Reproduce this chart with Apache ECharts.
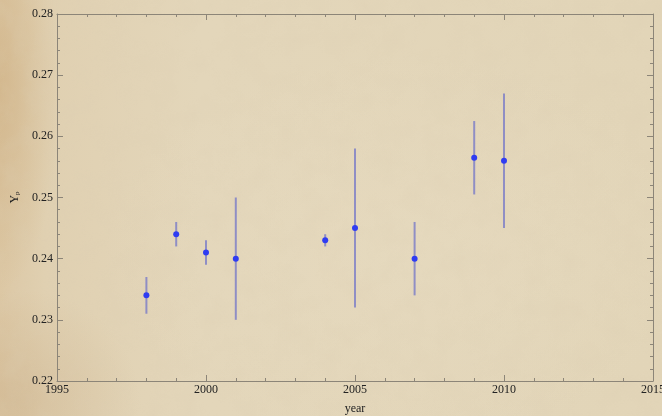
<!DOCTYPE html>
<html>
<head>
<meta charset="utf-8">
<script src="https://cdn.jsdelivr.net/npm/echarts@6/dist/echarts.min.js"></script>
<style>
  html, body { margin: 0; padding: 0; }
  body {
    width: 662px; height: 416px; overflow: hidden;
    background-color: #e2d4b7;
    position: relative;
  }
  #paper {
    position: absolute; left: 0; top: 0; width: 662px; height: 416px;
    background:
      radial-gradient(ellipse 60px 200px at 0px 90px, rgba(200,165,115,0.45), rgba(200,165,115,0) 100%),
      radial-gradient(ellipse 120px 110px at 20px 400px, rgba(195,165,125,0.35), rgba(195,165,125,0) 100%),
      radial-gradient(ellipse 300px 200px at 400px 250px, rgba(235,224,200,0.3), rgba(235,224,200,0) 100%),
      linear-gradient(90deg, #dcc7a4 0px, #e0d0b1 45px, #e3d6ba 200px, #e2d5b8 662px);
  }
  #grain {
    position: absolute; left: 0; top: 0; width: 662px; height: 416px;
    opacity: 0.3;
  }
  #chart { position: absolute; left: 0; top: 0; width: 662px; height: 416px; }
</style>
</head>
<body>
<div id="paper"></div>
<svg id="grain" width="662" height="416">
  <filter id="mottle">
    <feTurbulence type="fractalNoise" baseFrequency="0.04" numOctaves="4" seed="7"/>
    <feColorMatrix type="matrix" values="0 0 0 0 0.72  0 0 0 0 0.62  0 0 0 0 0.45  0 0 0 -1.6 1.0"/>
  </filter>
  <rect width="662" height="416" filter="url(#mottle)"/>
</svg>
<div id="chart"></div>
<script>
// Helium abundance Y_p measurements by year, with symmetric uncertainties
const years  = [1998, 1999, 2000, 2001, 2004, 2005, 2007, 2009, 2010];
const yp     = [0.234, 0.244, 0.241, 0.240, 0.243, 0.245, 0.240, 0.2565, 0.256];
const errors = [0.003, 0.002, 0.002, 0.010, 0.001, 0.013, 0.006, 0.006, 0.011];

const xTicks = [1995, 2000, 2005, 2010, 2015];
const yTicks = [0.22, 0.23, 0.24, 0.25, 0.26, 0.27, 0.28];

const points = years.map((y, i) => [y, yp[i]]);
const bars = years.map((y, i) => [y, yp[i] - errors[i], yp[i] + errors[i]]);

const serif = 'Liberation Serif';
const frameColor = '#8c8578';

const chart = echarts.init(document.getElementById('chart'), null, { renderer: 'canvas' });

const tickStyle = { show: true, inside: true, length: 6, lineStyle: { color: frameColor, width: 1 } };
const minorStyle = { show: true, splitNumber: 5, length: 3, lineStyle: { color: frameColor, width: 1 } };

chart.setOption({
  backgroundColor: 'transparent',
  animation: false,
  grid: { left: 57, right: 9, top: 14, bottom: 35, containLabel: false, outerBoundsMode: 'none' },
  xAxis: [{
    type: 'value', min: xTicks[0], max: xTicks[xTicks.length - 1], interval: 5,
    name: 'year', nameLocation: 'middle', nameGap: 22,
    nameTextStyle: { fontFamily: serif, fontSize: 12, color: '#222' },
    axisLine: { show: true, lineStyle: { color: frameColor, width: 1 } },
    axisTick: tickStyle, minorTick: minorStyle,
    axisLabel: { fontFamily: serif, fontSize: 12, color: '#222', margin: 3,
                 formatter: v => xTicks.includes(v) ? String(v) : '' },
    splitLine: { show: false }
  }, {
    type: 'value', position: 'top', min: xTicks[0], max: xTicks[xTicks.length - 1], interval: 5,
    axisLine: { show: true, onZero: false, lineStyle: { color: frameColor, width: 1 } },
    axisTick: tickStyle, minorTick: minorStyle,
    axisLabel: { show: false }, splitLine: { show: false }
  }],
  yAxis: [{
    type: 'value', min: yTicks[0], max: yTicks[yTicks.length - 1], interval: 0.01,
    name: '{y|Y}{p|p}', nameLocation: 'middle', nameGap: 36, nameRotate: 90,
    nameTextStyle: {
      fontFamily: serif, color: '#222',
      rich: {
        y: { fontFamily: serif, fontSize: 12, color: '#222' },
        p: { fontFamily: serif, fontSize: 7, color: '#222', verticalAlign: 'bottom' }
      }
    },
    axisLine: { show: true, onZero: false, lineStyle: { color: frameColor, width: 1 } },
    axisTick: tickStyle, minorTick: minorStyle,
    axisLabel: { fontFamily: serif, fontSize: 12, color: '#222', margin: 4,
                 formatter: v => v.toFixed(2) },
    splitLine: { show: false }
  }, {
    type: 'value', position: 'right', min: yTicks[0], max: yTicks[yTicks.length - 1], interval: 0.01,
    axisLine: { show: true, onZero: false, lineStyle: { color: frameColor, width: 1 } },
    axisTick: tickStyle, minorTick: minorStyle,
    axisLabel: { show: false }, splitLine: { show: false }
  }],
  series: [{
    name: 'uncertainty',
    type: 'custom',
    xAxisIndex: 0, yAxisIndex: 0,
    data: bars,
    renderItem: function (params, api) {
      const lo = api.coord([api.value(0), api.value(1)]);
      const hi = api.coord([api.value(0), api.value(2)]);
      return {
        type: 'line',
        shape: { x1: lo[0], y1: lo[1], x2: hi[0], y2: hi[1] },
        style: { stroke: 'rgba(115,118,200,0.75)', lineWidth: 2 }
      };
    },
    z: 2
  }, {
    name: 'Yp',
    type: 'scatter',
    xAxisIndex: 0, yAxisIndex: 0,
    data: points,
    symbol: 'circle', symbolSize: 6,
    itemStyle: { color: '#2f3cf2', opacity: 1 },
    z: 3
  }]
});
</script>
</body>
</html>
